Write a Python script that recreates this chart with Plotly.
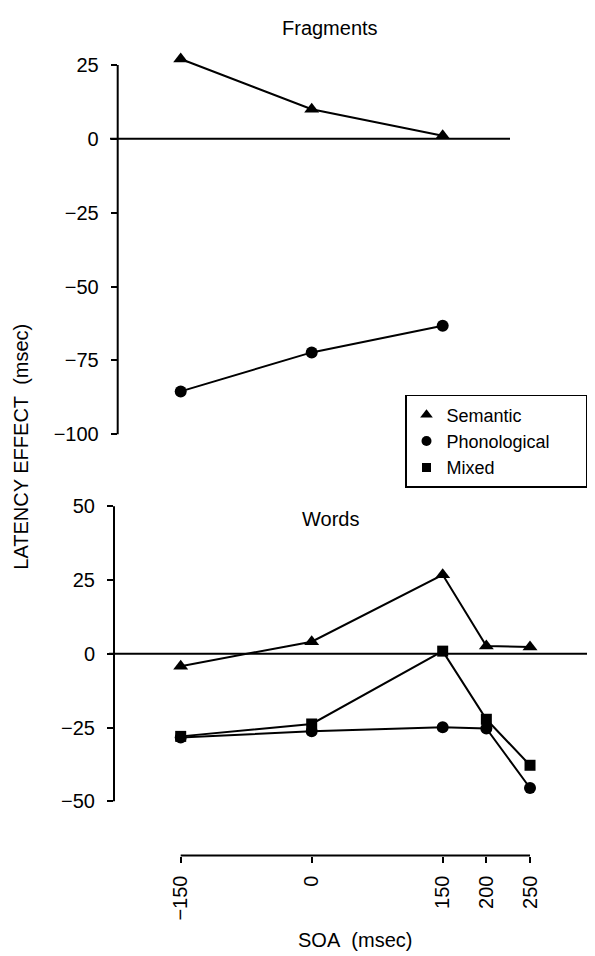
import plotly.graph_objects as go

# ---- data ----
soa_frag = [-150, 0, 150]
frag_semantic = [27, 10, 1]
frag_phonological = [-85.5, -72.3, -63.3]

soa_words = [-150, 0, 150, 200, 250]
words_semantic = [-4.2, 4.1, 26.8, 2.6, 2.3]
words_phonological = [-28.4, -26.3, -24.9, -25.3, -45.5]
words_mixed = [-28.0, -23.8, 0.9, -22.2, -37.8]

x_ticks = [-150, 0, 150, 200, 250]
y_ticks_frag = [25, 0, -25, -50, -75, -100]
y_ticks_words = [50, 25, 0, -25, -50]

series_names = ["Semantic", "Phonological", "Mixed"]
series_symbols = ["triangle-up", "circle", "square"]

FONT = "Liberation Sans, Arial, Helvetica, sans-serif"
W, H = 595, 956
FS = 20

fig = go.Figure()

def px_x(p):
    return p / W

def px_y(p):
    return 1 - p / H

marker_sizes = {"triangle-up": 13, "circle": 12, "square": 11}
line = dict(color="black", width=2)

def mk(sym):
    return dict(symbol=sym, size=marker_sizes[sym], color="black")

# top panel traces
fig.add_trace(go.Scatter(x=soa_frag, y=frag_semantic, mode="lines+markers",
                         line=line, marker=mk("triangle-up"),
                         xaxis="x", yaxis="y", showlegend=False, cliponaxis=False))
fig.add_trace(go.Scatter(x=soa_frag, y=frag_phonological, mode="lines+markers",
                         line=line, marker=mk("circle"),
                         xaxis="x", yaxis="y", showlegend=False, cliponaxis=False))

# bottom panel traces
fig.add_trace(go.Scatter(x=soa_words, y=words_phonological, mode="lines+markers",
                         line=line, marker=mk("circle"),
                         xaxis="x2", yaxis="y2", showlegend=False, cliponaxis=False))
fig.add_trace(go.Scatter(x=soa_words, y=words_mixed, mode="lines+markers",
                         line=line, marker=mk("square"),
                         xaxis="x2", yaxis="y2", showlegend=False, cliponaxis=False))
fig.add_trace(go.Scatter(x=soa_words, y=words_semantic, mode="lines+markers",
                         line=line, marker=mk("triangle-up"),
                         xaxis="x2", yaxis="y2", showlegend=False, cliponaxis=False))

# legend-only traces (longest label padded so the box runs near the page edge)
longest = max(len(n) for n in series_names)
for name, sym in zip(series_names, series_symbols):
    label = name + ("\u00a0" * 6 if len(name) == longest else "")
    fig.add_trace(go.Scatter(x=[None], y=[None], mode="markers", name=label,
                             marker=dict(symbol=sym, size=marker_sizes[sym] - 2, color="black"),
                             xaxis="x2", yaxis="y2", showlegend=True))

# axis geometry (pixels)
top_axis_px = 117.7
bot_axis_px = 114.0
right_px = 590.0
x_px_m150 = 180.7
x_scale = 0.8733  # px per unit

def xrange_for(left_px):
    return [-150 - (x_px_m150 - left_px) / x_scale, -150 + (right_px - x_px_m150) / x_scale]

top_range = [-104, 30]
top_zero_px, top_scale = 134.5, 2.97
top_dom = [px_y(top_zero_px - top_range[0] * top_scale), px_y(top_zero_px - top_range[1] * top_scale)]

bot_zero_px, bot_scale = 652.2, 2.965
bot_bottom_px = 855.0
bot_top_val = 52
bot_bottom_val = -(bot_bottom_px - bot_zero_px) / bot_scale
bot_range = [bot_bottom_val, bot_top_val]
bot_dom = [px_y(bot_bottom_px), px_y(bot_zero_px - bot_top_val * bot_scale)]

tickfont = dict(family=FONT, size=FS, color="black")

def minus(v):
    return str(v).replace("-", "\u2212")

fig.update_layout(
    width=W, height=H,
    margin=dict(l=0, r=0, t=0, b=0),
    paper_bgcolor="white", plot_bgcolor="white",
    font=dict(family=FONT, size=FS, color="black"),
    xaxis=dict(domain=[px_x(top_axis_px), px_x(right_px)], range=xrange_for(top_axis_px),
               anchor="y", showline=False, showgrid=False, zeroline=False,
               showticklabels=False, ticks=""),
    yaxis=dict(domain=top_dom, range=top_range, anchor="x",
               tickvals=y_ticks_frag, ticktext=[minus(v) for v in y_ticks_frag],
               ticks="outside", ticklen=6, tickwidth=2, tickcolor="black",
               showline=False, showgrid=False, zeroline=False, tickfont=tickfont,
               ticklabelstandoff=8),
    xaxis2=dict(domain=[px_x(bot_axis_px), px_x(right_px)], range=xrange_for(bot_axis_px),
                anchor="y2", tickvals=x_ticks, ticktext=[minus(v) for v in x_ticks],
                tickangle=-90, ticks="outside", ticklen=6, tickwidth=2, tickcolor="black",
                showline=False, showgrid=False, zeroline=False, tickfont=tickfont,
                ticklabelstandoff=5),
    yaxis2=dict(domain=bot_dom, range=bot_range, anchor="x2",
                tickvals=y_ticks_words, ticktext=[minus(v) for v in y_ticks_words],
                ticks="outside", ticklen=6, tickwidth=2, tickcolor="black",
                showline=False, showgrid=False, zeroline=False, tickfont=tickfont,
                ticklabelstandoff=8),
    legend=dict(x=px_x(405), y=px_y(392), xanchor="left", yanchor="top",
                bordercolor="black", borderwidth=1.5, bgcolor="white",
                font=dict(family=FONT, size=18, color="black"),
                itemsizing="trace"),
    showlegend=True,
)

ax_line = dict(color="black", width=2)
shapes = [
    dict(type="line", xref="x domain", yref="y", x0=0, x1=0, y0=-100, y1=25, line=ax_line),
    dict(type="line", xref="paper", yref="y", x0=px_x(110), x1=px_x(510), y0=0, y1=0, line=ax_line),
    dict(type="line", xref="x2 domain", yref="y2", x0=0, x1=0, y0=-50, y1=50, line=ax_line),
    dict(type="line", xref="paper", yref="y2", x0=px_x(109), x1=px_x(587), y0=0, y1=0, line=ax_line),
    dict(type="line", xref="x2", yref="y2 domain", x0=-150, x1=250, y0=0, y1=0, line=ax_line),
]
fig.update_layout(shapes=shapes)

def ann(text, x, y, angle=0):
    return dict(text=text, x=px_x(x), y=px_y(y), xref="paper", yref="paper",
                xanchor="center", yanchor="middle", showarrow=False, textangle=angle,
                font=dict(family=FONT, size=FS, color="black"))

fig.update_layout(annotations=[
    ann("Fragments", 330, 23),
    ann("Words", 330, 517),
    ann("LATENCY EFFECT\u00a0\u00a0(msec)", 21, 444, -90),
    ann("SOA\u00a0\u00a0(msec)", 355, 940),
])

fig.write_html("out.html", config={"displayModeBar": False},
               post_script="document.body.style.margin='0px';document.body.style.overflow='hidden';")
